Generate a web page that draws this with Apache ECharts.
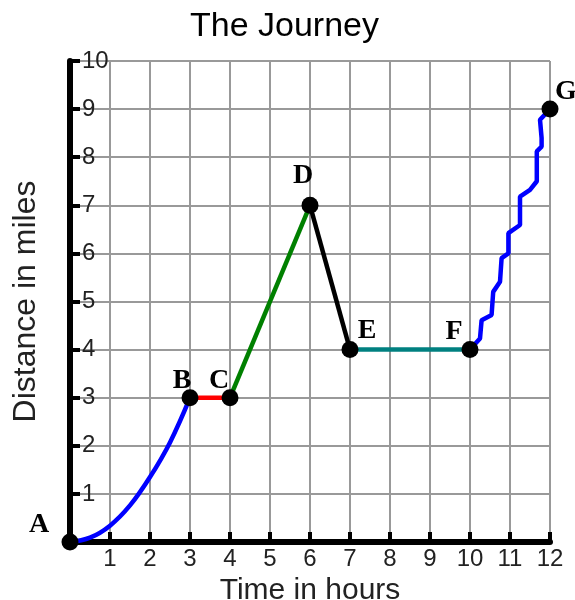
<!DOCTYPE html>
<html>
<head>
<meta charset="utf-8">
<script src="https://cdn.jsdelivr.net/npm/echarts@6/dist/echarts.min.js"></script>
<style>html,body{margin:0;padding:0;background:#fff;}#c{width:575px;height:600px;}</style>
</head>
<body>
<div id="c"></div>
<script>
// Data
const xTicks = [0,1,2,3,4,5,6,7,8,9,10,11,12];
const yTicks = [0,1,2,3,4,5,6,7,8,9,10];
const curveAB = [[0,0],[0.5,0.09],[1,0.34],[1.5,0.76],[2,1.35],[2.5,2.07],[3,3]];
const segBC = [[3,3],[4,3]];
const segCD = [[4,3],[6,7]];
const segDE = [[6,7],[7,4]];
const segEF = [[7,4],[10,4]];
const jaggedFG = [[10,4],[10.25,4.23],[10.29,4.61],[10.54,4.72],[10.58,5.2],[10.75,5.41],[10.79,5.9],[10.96,6.0],[10.96,6.42],[11.25,6.59],[11.25,7.18],[11.5,7.32],[11.67,7.5],[11.67,8.12],[11.79,8.22],[11.79,8.4],[11.75,8.43],[11.75,8.78],[12,9]];
const pointNames = ['A','B','C','D','E','F','G'];
const pointX = [0,3,4,6,7,10,12];
const pointY = [0,3,3,7,4,4,9];

// label placement (style)
const labelOffsets = {A:[-31,-17],B:[-8,-17],C:[-11,-17],D:[-7,-30],E:[17,-19],F:[-16,-18],G:[16,-17]};

const chart = echarts.init(document.getElementById('c'));
const lineSeries = (data, color, smooth) => ({
  type:'line', data, symbol:'none', smooth: smooth || false,
  lineStyle:{color, width:4.5}, z:3, silent:true
});
const dots = pointNames.map((n,i)=>({
  value:[pointX[i], pointY[i]],
  label:{show:true, formatter:n, position:'inside', offset:labelOffsets[n]}
}));
chart.setOption({
  animation:false,
  title:{text:'The Journey', left:185, top:5,
    textStyle:{fontFamily:'Liberation Sans', fontSize:34, fontWeight:'normal', color:'#000'}},
  grid:{left:70, right:25, top:61, bottom:58, outerBoundsMode:'none', containLabel:false},
  xAxis:{type:'value', min:0, max:12, interval:1,
    name:'Time in hours', nameLocation:'middle', nameGap:21,
    nameTextStyle:{fontFamily:'Liberation Sans', fontSize:30, color:'#222'},
    axisLine:{show:true, onZero:false, lineStyle:{color:'#000', width:6}},
    axisTick:{show:true, inside:true, length:10, lineStyle:{color:'#000', width:4}},
    axisLabel:{margin:5, fontFamily:'Liberation Sans', fontSize:24, color:'#222',
      formatter:v=> v===0 ? '' : String(xTicks[v])},
    splitLine:{show:true, lineStyle:{color:'#999', width:2}}},
  yAxis:{type:'value', min:0, max:10, interval:1,
    name:'Distance in miles', nameLocation:'middle', nameGap:28, nameRotate:90,
    nameTextStyle:{fontFamily:'Liberation Sans', fontSize:32, color:'#222'},
    axisLine:{show:true, onZero:false, lineStyle:{color:'#000', width:6}},
    axisTick:{show:true, inside:true, length:10, lineStyle:{color:'#000', width:4}},
    axisLabel:{inside:true, margin:12, fontFamily:'Liberation Sans', fontSize:24, color:'#222',
      formatter:v=> v===0 ? '' : String(yTicks[v])},
    splitLine:{show:true, lineStyle:{color:'#999', width:2}}},
  series:[
    lineSeries(curveAB,'#0000ff',0.4),
    lineSeries(segBC,'#ff0000'),
    lineSeries(segCD,'#008000'),
    lineSeries(segDE,'#000000'),
    lineSeries(segEF,'#008080'),
    lineSeries(jaggedFG,'#0000ff'),
    {type:'scatter', data:dots, symbolSize:17, itemStyle:{color:'#000', opacity:1}, z:5, silent:true,
      label:{fontFamily:'Liberation Serif', fontWeight:'bold', fontSize:28, color:'#000'}}
  ]
});
</script>
</body>
</html>
